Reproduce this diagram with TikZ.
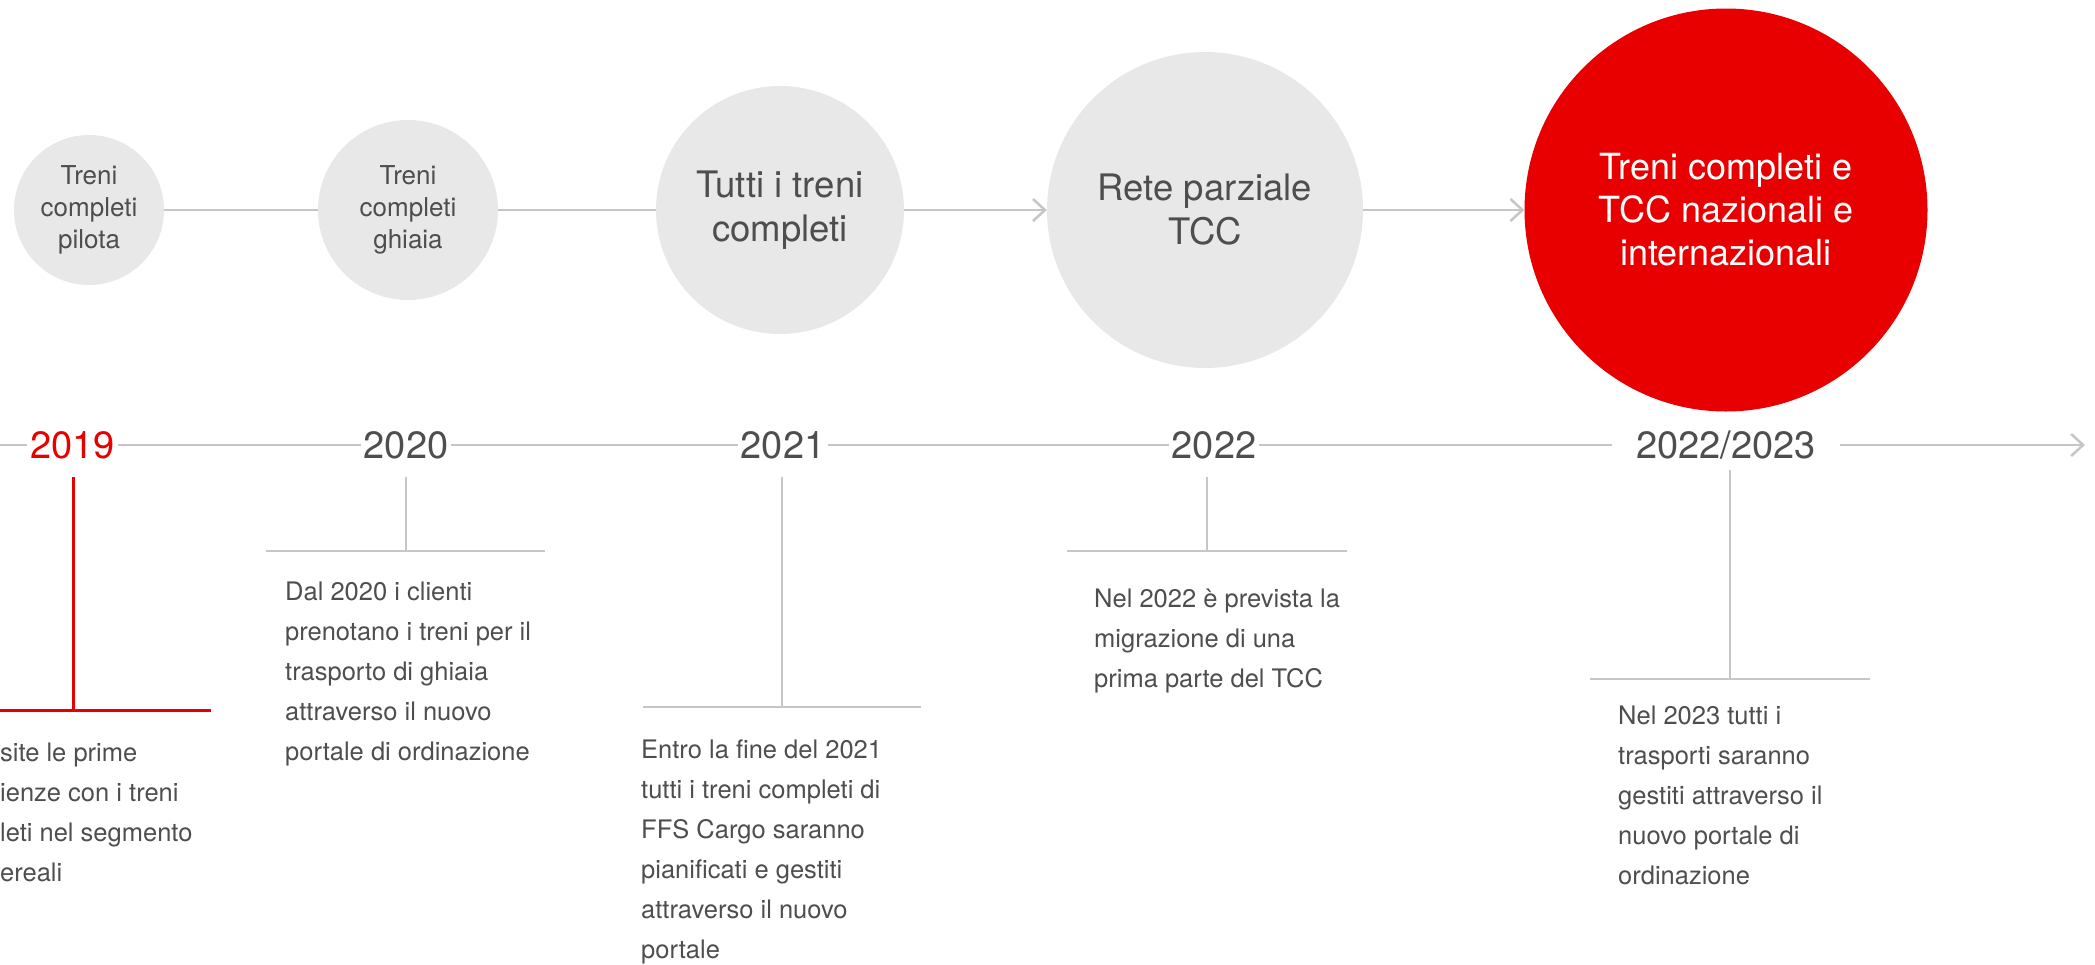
\documentclass[tikz,border=0pt]{standalone}
\usepackage{fontspec}
\setmainfont{TeX Gyre Heros}
\usetikzlibrary{arrows.meta}
\definecolor{tlgray}{RGB}{198,198,198}
\definecolor{circgray}{RGB}{232,232,232}
\definecolor{sbbred}{RGB}{232,0,0}
\definecolor{txt}{RGB}{78,78,78}
\begin{document}
\begin{tikzpicture}[x=1pt,y=-1pt,
  conn/.style={draw=tlgray,line width=2.5pt},
  arr/.style={conn,-{Straight Barb[length=12pt,width=22pt,line width=2.5pt]}},
  redline/.style={draw=sbbred,line width=3pt},
  smallcirc/.style={circle,fill=circgray,inner sep=0pt,align=center,text=txt,font=\fontsize{26}{32}\selectfont},
  bigcirc/.style={circle,fill=circgray,inner sep=0pt,align=center,text=txt,font=\fontsize{36.5}{44}\selectfont},
  redcirc/.style={circle,fill=sbbred,inner sep=0pt,align=center,text=white,font=\fontsize{36}{43}\selectfont},
  year/.style={text=txt,font=\fontsize{38}{38}\selectfont,inner xsep=3pt,inner ysep=0pt},
  desc/.style={anchor=north west,inner sep=0pt,align=left,text=txt,font=\fontsize{25.5}{40}\selectfont}
]
\useasboundingbox (0,0) rectangle (2095,964);

% circles
\node[smallcirc,minimum size=150pt] (c1) at (89,210) {Treni\\completi\\pilota};
\node[smallcirc,minimum size=180pt] (c2) at (408,210) {Treni\\completi\\ghiaia};
\node[bigcirc,minimum size=248pt] (c3) at (780,210) {Tutti i treni\\completi};
\node[bigcirc,minimum size=316pt] (c4) at (1205,210) {Rete parziale\\TCC};
\node[redcirc,minimum size=403pt] (c5) at (1726,210) {Treni completi e\\TCC nazionali e\\internazionali};

\draw[conn] (c1.east) -- (c2.west);
\draw[conn] (c2.east) -- (c3.west);
\draw[arr] (c3.east) -- (c4.west);
\draw[arr] (c4.east) -- (c5.west);

% timeline
\node[year,text=sbbred] (y19) at (72.5,445) {2019};
\node[year] (y20) at (406,445) {2020};
\node[year] (y21) at (783,445) {2021};
\node[year] (y22) at (1214,445) {2022};
\node[year,inner xsep=24pt] (y23) at (1726,445) {2022/2023};
\coordinate (tl0) at (0,445);
\coordinate (tlend) at (2085,445);

\draw[conn] (tl0) -- (y19.west);
\draw[conn] (y19.east) -- (y20.west);
\draw[conn] (y20.east) -- (y21.west);
\draw[conn] (y21.east) -- (y22.west);
\draw[conn] (y22.east) -- (y23.west);
\draw[arr] (y23.east) -- (tlend);

% ticks
\coordinate (k19a) at (73,477);  \coordinate (k19b) at (73,710);
\coordinate (h19a) at (0,710);   \coordinate (h19b) at (211,710);
\draw[redline] (k19a) -- (k19b);
\draw[redline] (h19a) -- (h19b);

\coordinate (k20a) at (406,477); \coordinate (k20b) at (406,551);
\coordinate (h20a) at (266,551); \coordinate (h20b) at (545,551);
\draw[conn] (k20a) -- (k20b);
\draw[conn] (h20a) -- (h20b);

\coordinate (k21a) at (782,477); \coordinate (k21b) at (782,707);
\coordinate (h21a) at (643,707); \coordinate (h21b) at (921,707);
\draw[conn] (k21a) -- (k21b);
\draw[conn] (h21a) -- (h21b);

\coordinate (k22a) at (1207,477); \coordinate (k22b) at (1207,551);
\coordinate (h22a) at (1067,551); \coordinate (h22b) at (1347,551);
\draw[conn] (k22a) -- (k22b);
\draw[conn] (h22a) -- (h22b);

\coordinate (k23a) at (1730,470); \coordinate (k23b) at (1730,679);
\coordinate (h23a) at (1590,679); \coordinate (h23b) at (1870,679);
\draw[conn] (k23a) -- (k23b);
\draw[conn] (h23a) -- (h23b);

% descriptions
\node[desc] (d19) at (0,743) {site le prime\\ienze con i treni\\leti nel segmento\\ereali};
\node[desc] (d20) at (285,582) {Dal 2020 i clienti\\prenotano i treni per il\\trasporto di ghiaia\\attraverso il nuovo\\portale di ordinazione};
\node[desc] (d21) at (641,740) {Entro la fine del 2021\\tutti i treni completi di\\FFS Cargo saranno\\pianificati e gestiti\\attraverso il nuovo\\portale};
\node[desc] (d22) at (1094,589) {Nel 2022 è prevista la\\migrazione di una\\prima parte del TCC};
\node[desc] (d23) at (1618,706) {Nel 2023 tutti i\\trasporti saranno\\gestiti attraverso il\\nuovo portale di\\ordinazione};
\end{tikzpicture}
\end{document}
